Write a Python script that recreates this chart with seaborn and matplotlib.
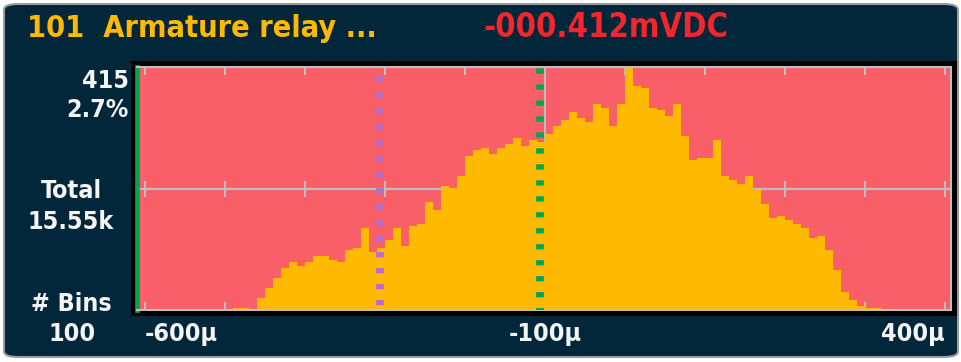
import matplotlib
matplotlib.use("Agg")
import matplotlib.pyplot as plt
import matplotlib.transforms as mtransforms
from matplotlib.patches import Rectangle, FancyBboxPatch
import numpy as np
import pandas as pd
import seaborn as sns

# ---- data -------------------------------------------------------------
# 100 bins, 10 µV wide, spanning -600 µV .. +400 µV
bin_start_uv = -600
bin_width_uv = 10
bin_counts = [
    0, 0, 0, 0, 0, 0, 0, 0, 0, 0,
    0, 3, 3, 0, 20, 38, 55, 72, 82, 75,
    82, 92, 92, 85, 82, 102, 106, 140, 99, 106,
    120, 140, 109, 143, 147, 184, 171, 212, 208, 229,
    263, 273, 277, 266, 277, 284, 294, 280, 290, 287,
    301, 314, 325, 338, 328, 321, 352, 345, 314, 352,
    415, 382, 379, 345, 341, 331, 352, 297, 257, 260,
    260, 290, 229, 222, 215, 229, 205, 181, 157, 160,
    154, 147, 140, 123, 126, 102, 68, 31, 17, 7,
    3, 3, 0, 0, 0, 0, 0, 0, 0, 0,
]
mean_uv = -106
lower_marker_uv = -306
grid_ticks_uv = list(range(-600, 401, 100))
axis_labels_uv = [-600, -100, 400]
axis_label_text = ["-600µ", "-100µ", "400µ"]

channel_title = "101  Armature relay ..."
reading_text = "-000.412mVDC"
peak_text = ["415", "2.7%"]
total_text = ["Total", "15.55k"]
bins_text = ["# Bins", "100"]

# ---- colours ----------------------------------------------------------
PANEL = "#02263A"
PLOT_BG = "#F95F69"
BAR = "#FFB900"
GRID = "#BEBEBE"
GREEN = "#00A651"
PURPLE = "#B46ED2"
TITLE_YEL = "#FFB900"
READ_RED = "#F2262B"
WHITE = "#F4F4F4"

plt.rcParams["lines.scale_dashes"] = False
plt.rcParams["font.family"] = ["DejaVu Sans"]
FONT = dict(fontweight="bold", fontstretch="condensed")

W, H = 961, 362
fig = plt.figure(figsize=(W / 100, H / 100), dpi=100)
fig.patch.set_facecolor("white")


def fx(x):
    return x / W


def fy(y):
    return 1 - y / H


# instrument panel with rounded frame
panel = FancyBboxPatch((fx(4), fy(357)), fx(954), (353) / H,
                       boxstyle="round,pad=0,rounding_size=0.015",
                       transform=fig.transFigure, facecolor=PANEL,
                       edgecolor="#9C9C9C", linewidth=1.5, zorder=-3)
fig.patches.append(panel)

# black bezel around the histogram window
bezel = Rectangle((fx(131), fy(316)), fx(957 - 131), (316 - 61) / H,
                  transform=fig.transFigure, facecolor="black",
                  edgecolor="none", zorder=-2)
fig.patches.append(bezel)

# ---- histogram axes -----------------------------------------------------
ax = fig.add_axes([fx(137), fy(310), fx(814), 243 / H])
ax.set_facecolor(PLOT_BG)

edges = [bin_start_uv + bin_width_uv * i for i in range(len(bin_counts) + 1)]
centers = [e + bin_width_uv / 2 for e in edges[:-1]]
df = pd.DataFrame({"voltage_uv": centers, "count": bin_counts})

sns.histplot(data=df, x="voltage_uv", weights="count", bins=edges,
             element="step", fill=True, color=BAR, alpha=1,
             linewidth=0, ax=ax, zorder=1)

ax.set_xlim(-610, 407.5)
ax.set_ylim(0, max(bin_counts))
ax.set_xlabel("")
ax.set_ylabel("")
ax.set_yticks([])
ax.set_xticks(grid_ticks_uv)
ax.set_axisbelow(True)
ax.tick_params(axis="x", which="both", direction="in", top=True,
               bottom=True, length=5.8, width=1.4, color=GRID,
               labelbottom=False, labeltop=False)

# centre cross-hair with division marks
mid = max(bin_counts) / 2
ax.axhline(mid, color=GRID, lw=1.6, zorder=0.6)
ax.axvline(-100, color=GRID, lw=1.4, zorder=0.6)
ax.plot(grid_ticks_uv, [mid] * len(grid_ticks_uv), ls="none", marker="|",
        ms=12, mew=1.4, color=GRID, zorder=0.6)

for side in ("top", "right", "bottom"):
    ax.spines[side].set_color(GRID)
    ax.spines[side].set_linewidth(1.5)
ax.spines["left"].set_color(GREEN)
ax.spines["left"].set_linewidth(3.4)

# statistics markers
ax.axvline(lower_marker_uv, color=PURPLE, lw=5.6,
           linestyle=(8.1, (3.8, 7.7)), zorder=3)
ax.axvline(mean_uv, color=GREEN, lw=5.6,
           linestyle=(2.4, (3.8, 7.7)), zorder=3)

# x axis labels under the window
trans = mtransforms.blended_transform_factory(ax.transData, fig.transFigure)
for xv, txt, ha in zip(axis_labels_uv, axis_label_text,
                       ["left", "center", "right"]):
    ax.text(xv, fy(341), txt, transform=trans, ha=ha, va="baseline",
            color=WHITE, fontsize=18, clip_on=False, **FONT)

# ---- header -------------------------------------------------------------
fig.text(fx(27), fy(37), channel_title, color=TITLE_YEL, fontsize=22,
         va="baseline", ha="left", **FONT)
fig.text(fx(483), fy(37), reading_text, color=READ_RED, fontsize=23.5,
         va="baseline", ha="left", **FONT)

# ---- side statistics ----------------------------------------------------
side_kw = dict(color=WHITE, fontsize=18, va="baseline", **FONT)
fig.text(fx(129), fy(88), peak_text[0], ha="right", **side_kw)
fig.text(fx(129), fy(117), peak_text[1], ha="right", **side_kw)
fig.text(fx(71), fy(198), total_text[0], ha="center", **side_kw)
fig.text(fx(71), fy(229), total_text[1], ha="center", **side_kw)
fig.text(fx(71), fy(311), bins_text[0], ha="center", **side_kw)
fig.text(fx(72), fy(341), bins_text[1], ha="center", **side_kw)

fig.savefig("out.png", dpi=100, facecolor=fig.get_facecolor())
